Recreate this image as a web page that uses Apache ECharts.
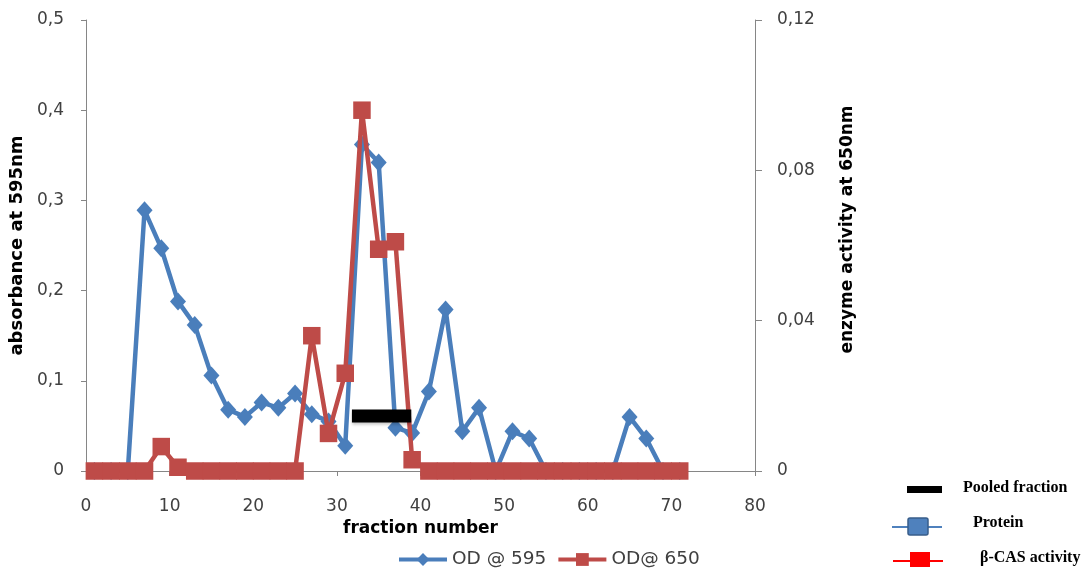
<!DOCTYPE html>
<html>
<head>
<meta charset="utf-8">
<script src="https://cdn.jsdelivr.net/npm/echarts@6/dist/echarts.min.js"></script>
<style>
html,body{margin:0;padding:0;background:#fff;}
#chart{width:1090px;height:569px;}
</style>
</head>
<body>
<div id="chart"></div>
<script>
// ---- data ----
var fractions = [1,3,5,7,9,11,13,15,17,19,21,23,25,27,29,31,33,35,37,39,41,43,45,47,49,51,53,55,57,59,61,63,65,67,69,71];
var od595 = [0,0,0,0.289,0.247,0.188,0.162,0.106,0.068,0.060,0.076,0.070,0.086,0.063,0.055,0.028,0.362,0.342,0.048,0.042,0.088,0.179,0.044,0.070,0,0.044,0.036,0,0,0,0,0,0.060,0.036,0,0];
var od650 = [0,0,0,0,0.0065,0.001,0,0,0,0,0,0,0,0.036,0.010,0.026,0.096,0.059,0.061,0.003,0,0,0,0,0,0,0,0,0,0,0,0,0,0,0,0];
var pooledRange = [31.8, 38.9];
var pooledLevel = [0.061, 0.061];
var xTickLabels = ['0','10','20','30','40','50','60','70','80'];
var leftTickLabels = ['0','0,1','0,2','0,3','0,4','0,5'];
var rightTickLabels = ['0','0,04','0,08','0,12'];
var seriesNames = ['OD @ 595','OD@ 650'];
var axisNames = ['fraction number','absorbance at 595nm','enzyme activity at 650nm'];
var sideLegendTexts = ['Pooled fraction','Protein','\u03B2-CAS activity'];

function pairs(xs, ys){ return xs.map(function(x,i){ return [x, ys[i]]; }); }

var labelFont = {fontFamily:'DejaVu Sans', fontSize:17, color:'#404040'};
var axisLineStyle = {lineStyle:{color:'#868686', width:1}};

var chart = echarts.init(document.getElementById('chart'), null, {renderer:'canvas'});
chart.setOption({
  animation:false,
  backgroundColor:'#fff',
  grid:{left:86, right:335, top:20, bottom:98, containLabel:false},
  legend:{
    data:seriesNames,
    left:392, top:545,
    itemWidth:48, itemHeight:16, itemGap:10,
    lineStyle:{width:4},
    textStyle:{fontFamily:'DejaVu Sans', fontSize:18.5, color:'#404040'}
  },
  xAxis:{
    type:'value', min:0, max:80, interval:10,
    name:axisNames[0], nameLocation:'middle', nameGap:46,
    nameTextStyle:{fontFamily:'DejaVu Sans', fontSize:17, fontWeight:'bold', color:'#000'},
    axisLine:axisLineStyle, axisTick:{show:true, length:5, lineStyle:{color:'#868686'}},
    splitLine:{show:false},
    axisLabel:Object.assign({margin:27, formatter:function(v,i){ return xTickLabels[i]; }}, labelFont)
  },
  yAxis:[{
    type:'value', min:0, max:0.5, interval:0.1, position:'left',
    name:axisNames[1], nameLocation:'middle', nameRotate:90, nameGap:59,
    nameTextStyle:{fontFamily:'DejaVu Sans', fontSize:18, fontWeight:'bold', color:'#000'},
    axisLine:Object.assign({show:true}, axisLineStyle), axisTick:{show:true, length:5, lineStyle:{color:'#868686'}},
    splitLine:{show:false},
    axisLabel:Object.assign({margin:22, formatter:function(v,i){ return leftTickLabels[i]; }}, labelFont)
  },{
    type:'value', min:0, max:0.12, interval:0.04, position:'right',
    name:axisNames[2], nameLocation:'middle', nameRotate:90, nameGap:84,
    nameTextStyle:{fontFamily:'DejaVu Sans', fontSize:17, fontWeight:'bold', color:'#000', padding:[0,0,0,32]},
    axisLine:Object.assign({show:true}, axisLineStyle), axisTick:{show:true, length:7, lineStyle:{color:'#868686'}},
    splitLine:{show:false},
    axisLabel:Object.assign({margin:22, formatter:function(v,i){ return rightTickLabels[i]; }}, labelFont)
  }],
  series:[{
    name:seriesNames[0], type:'line', yAxisIndex:0,
    data:pairs(fractions, od595),
    symbol:'diamond', symbolSize:[16,18],
    lineStyle:{color:'#4A7EBB', width:4.5},
    itemStyle:{color:'#4A7EBB'},
    z:2
  },{
    name:seriesNames[1], type:'line', yAxisIndex:1,
    data:pairs(fractions, od650),
    symbol:'rect', symbolSize:17.5,
    lineStyle:{color:'#BE4B48', width:4.5},
    itemStyle:{color:'#BE4B48'},
    z:3
  },{
    name:'pooled', type:'line', yAxisIndex:0,
    data:pairs(pooledRange, pooledLevel),
    symbol:'none', silent:true,
    lineStyle:{color:'#000', width:13, cap:'butt', shadowColor:'rgba(0,0,0,0.25)', shadowOffsetY:3, shadowBlur:3},
    z:4
  }],
  graphic:[
    {type:'rect', shape:{x:907, y:486, width:35, height:7}, style:{fill:'#000'}},
    {type:'text', x:963, y:488, style:{text:sideLegendTexts[0], font:'bold 16px "Liberation Serif"', fill:'#000', textVerticalAlign:'middle'}},
    {type:'line', shape:{x1:892, y1:527, x2:942, y2:527}, style:{stroke:'#4F81BD', lineWidth:2}},
    {type:'rect', shape:{x:908, y:518, width:20, height:17, r:2}, style:{fill:'#4F81BD', stroke:'#385D8A', lineWidth:1.5}},
    {type:'text', x:973, y:523, style:{text:sideLegendTexts[1], font:'bold 16px "Liberation Serif"', fill:'#000', textVerticalAlign:'middle'}},
    {type:'line', shape:{x1:893, y1:561, x2:943, y2:561}, style:{stroke:'#FF0000', lineWidth:2}},
    {type:'rect', shape:{x:910, y:552, width:20, height:15}, style:{fill:'#FF0000'}},
    {type:'text', x:980, y:558, style:{text:sideLegendTexts[2], font:'bold 16px "Liberation Serif"', fill:'#000', textVerticalAlign:'middle'}}
  ]
});
</script>
</body>
</html>
